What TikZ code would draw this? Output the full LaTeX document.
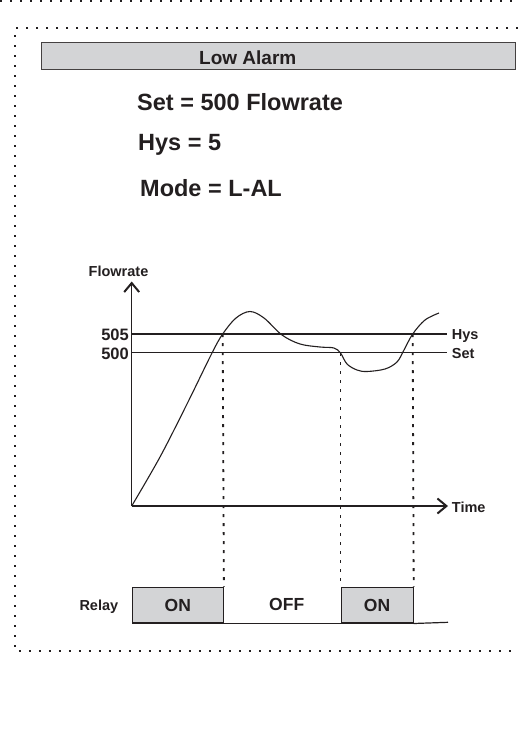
\documentclass[tikz,border=0pt]{standalone}
\usepackage{fontspec}
\setmainfont{Liberation Sans}
\usepackage{tikz}
\usetikzlibrary{arrows.meta, positioning}
\definecolor{cBar}{RGB}{211,212,214}
\definecolor{cInk}{RGB}{35,31,32}
\tikzset{
  bigtext/.style={anchor=base west, inner sep=0pt, text=cInk,
                  font=\bfseries\fontsize{23.5}{28}\selectfont},
  smalltext/.style={inner sep=0pt, text=cInk,
                    font=\bfseries\fontsize{14.5}{17}\selectfont},
  titlebar/.style={rectangle, draw=cInk!85, fill=cBar, line width=1.2pt,
                   minimum width=474pt, minimum height=27pt, anchor=north west},
  relaybox/.style={rectangle, draw=cInk, fill=cBar, line width=1.2pt,
                   minimum height=35.6pt, anchor=north west, inner sep=0pt,
                   text=cInk, font=\bfseries\fontsize{17.5}{20}\selectfont},
  border/.style={draw=cInk, line width=1.4pt, dash pattern=on 1.6pt off 8.4pt},
  guide/.style={draw=cInk, line width=1.8pt, dash pattern=on 3pt off 6pt},
  axis/.style={draw=cInk, line width=1.2pt,
               -{Straight Barb[length=9pt,width=15pt,line width=2pt]}},
  level/.style={draw=cInk, line width=1.1pt},
  flow/.style={draw=cInk, line width=1.1pt}
}

\begin{document}
\begin{tikzpicture}[x=1pt, y=-1pt]
  \useasboundingbox (0,0) rectangle (518,747);

  \coordinate (t0) at (0,1);
  \coordinate (t1) at (518,1);
  \coordinate (b0) at (518,28);
  \coordinate (b1) at (15,28);
  \coordinate (b2) at (15,651);
  \coordinate (b3) at (518,651);
  \draw[border] (t0) -- (t1);
  \draw[border] (b0) -- (b1) -- (b2) -- (b3);

  \node[titlebar] (bar) at (41,42) {};
  \node[anchor=base west, inner sep=0pt, text=cInk,
        font=\bfseries\fontsize{19}{22}\selectfont] (title) at (199,64) {Low Alarm};

  \node[bigtext] (setval) at (137,110) {Set = 500 Flowrate};
  \node[bigtext] (hysval) at (138,150.7) {Hys = 5};
  \node[bigtext] (modeval) at (140,196.7) {Mode = L-AL};

  % axes
  \coordinate (org) at (131.7,506);
  \coordinate (ytop) at (131.7,281.5);
  \coordinate (xend) at (448,506);
  \draw[axis] (org) -- (ytop);
  \draw[axis] (org) -- (xend);
  \node[smalltext, anchor=base] (ylbl) at (118.5,276) {Flowrate};
  \node[smalltext, anchor=base west] (xlbl) at (451.7,512.3) {Time};

  % hysteresis and set levels
  \coordinate (h0) at (131.7,334);
  \coordinate (h1) at (447,334);
  \coordinate (s0) at (131.7,352.7);
  \coordinate (s1) at (447,352.7);
  \draw[level] (h0) -- (h1);
  \draw[level] (s0) -- (s1);
  \node[smalltext, anchor=base east, font=\bfseries\fontsize{16.5}{19}\selectfont] (n505) at (129,340.7) {505};
  \node[smalltext, anchor=base east, font=\bfseries\fontsize{16.5}{19}\selectfont] (n500) at (129,359.5) {500};
  \node[smalltext, anchor=base west] (hyslbl) at (451.7,339.5) {Hys};
  \node[smalltext, anchor=base west] (setlbl) at (451.7,358.7) {Set};

  % flowrate
  \coordinate (c1) at (222.7,334);
  \coordinate (c2) at (340.5,353);
  \coordinate (c3) at (412.7,334);
  \draw[flow] plot[smooth, tension=0.55] coordinates {
    (131.7,506) (160,457) (187,404) (212,353) (c1) (236,318) (250,311.5)
    (264,318) (282,335) (300,344) (320,347) (334,348) (c2) (347,364)
    (357,370) (367,371.5) (385,369) (397,362) (404,350) (c3) (425,320) (439,313)};

  % relay
  \node[smalltext, anchor=base west] (relay) at (79.3,610) {Relay};
  \node[relaybox, minimum width=91pt] (on1) at (131.7,586.7) {ON};
  \node[relaybox, minimum width=72pt] (on2) at (340.5,586.7) {ON};
  \node[inner sep=0pt, text=cInk,
        font=\bfseries\fontsize{17.5}{20}\selectfont] (off) at (286.7,604.5) {OFF};
  \coordinate (rend) at (448,622.3);
  \draw[level, line width=1.2pt] (on1.south east) -- (on2.south west);
  \draw[level, line width=1.2pt] (on2.south east) -- (rend);

  \draw[guide] (c1) -- (on1.north east);
  \draw[guide] (c2) -- (on2.north west);
  \draw[guide] (c3) -- (on2.north east);
\end{tikzpicture}
\end{document}
